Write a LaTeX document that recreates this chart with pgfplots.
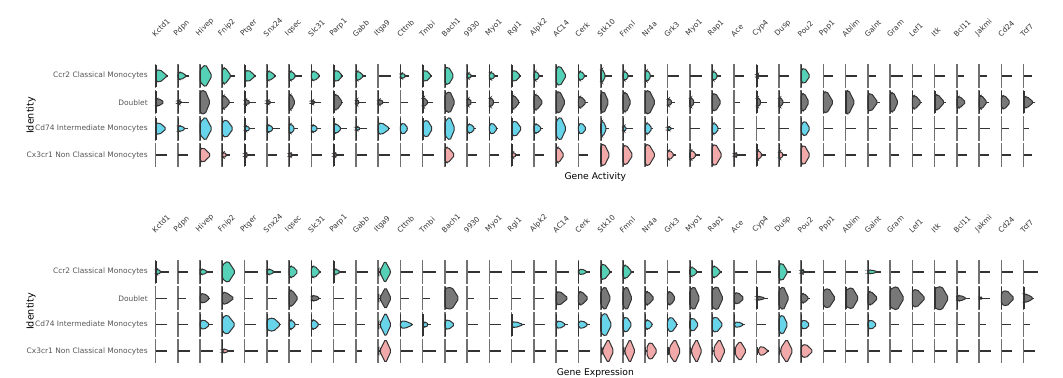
\documentclass[border=0pt]{standalone}
\usepackage{pgfplots}
\pgfplotsset{compat=1.18}
\usepackage{pgfplotstable}
\usepackage{fontspec}
\setmainfont{DejaVu Sans}
\newlength\pxu \setlength\pxu{0.75pt}
\definecolor{spinec}{HTML}{707070}
\definecolor{darkc}{HTML}{333333}
\definecolor{rowtxt}{HTML}{555555}
\definecolor{genetxt}{HTML}{333333}
\definecolor{ccrc}{RGB}{84,209,182}
\definecolor{dblc}{RGB}{120,120,120}
\definecolor{cdc}{RGB}{104,212,234}
\definecolor{cxc}{RGB}{242,169,169}

% columns: g = gene index, r = identity row (3 Ccr2, 2 Doublet, 1 Cd74, 0 Cx3cr1)
% O offset, L length, H half height, P peak position, S half height at start, T whisker length (px)
\pgfplotstableread{
g r O L H P S T
0 3 0 12 6.5 0.35 5 12
0 2 0 9 4 0.3 3 0
0 1 0 11 6 0.35 5 0
0 0 0 0 0 0 0 11
1 3 0 9 4 0.35 3 11
1 2 0 4 2 0.3 1.5 11
1 1 0 8 3 0.35 2.5 10
1 0 0 0 0 0 0 10
2 3 0 12 11.5 0.45 6 0
2 2 0 10 12 0.5 11 10
2 1 0 12 12 0.45 6 0
2 0 0 11 7.5 0.3 6 0
3 3 0 9 8.5 0.3 7 12.5
3 2 0 8 7 0.25 6 12
3 1 0 11 9 0.4 7 0
3 0 0 5 3 0.35 2 8
4 3 0 11 6 0.35 4 11
4 2 0 6 3 0.3 2 11
4 1 0 6 3 0.35 2 10
4 0 0 4 2 0.35 1.5 10
5 3 0 9 5 0.3 4 9
5 2 0 5 2 0.3 1.5 8
5 1 0 7 4 0.35 3 13
5 0 0 0 0 0 0 10
6 3 0 7 5 0.35 4 13
6 2 0 6 8 0.35 7 6
6 1 0 6 5 0.35 4 9
6 0 0 4 2 0.35 1.5 9
7 3 0 9 5 0.35 4 9
7 2 0 4 2 0.3 1.5 10
7 1 0 7 4 0.35 3 10
7 0 0 0 0 0 0 11
8 3 0 9 6 0.4 4 9
8 2 0 9 8 0.35 7 9
8 1 0 8 5 0.35 4 13
8 0 0 4 2 0.35 1.5 10
9 3 0 8 5 0.3 4 10
9 2 0 4 3 0.3 2 10
9 1 0 5 2 0.35 1.5 11
9 0 0 0 0 0 0 11
10 3 0 0 0 0 0 13
10 2 0 6 3 0.3 2 11
10 1 0 12 6 0.3 5 12
10 0 0 0 0 0 0 12
11 3 0 6 3 0.35 2 9
11 2 0 0 0 0 0 8
11 1 0 8 6 0.4 4 8
11 0 0 0 0 0 0 10
12 3 0 9 6 0.35 4 9
12 2 0 6 5 0.2 4 10
12 1 0 10 9 0.45 6 0
12 0 0 0 0 0 0 11
13 3 0 9 9 0.4 8 0
13 2 0 10 11 0.5 8 0
13 1 0 10 12 0.5 7 0
13 0 0 10 8 0.3 7 0
14 3 0 5 3 0.35 2 9
14 2 0 5 4 0.3 3 9
14 1 0 8 5 0.4 3.5 9
14 0 0 0 0 0 0 10
15 3 0 6 4 0.35 3 9
15 2 0 5 5 0.3 4 10
15 1 0 8 6 0.4 4 9
15 0 0 0 0 0 0 10
16 3 0 9 6 0.35 4 9
16 2 0 8 7 0.3 6 8
16 1 0 10 8 0.4 6 0
16 0 0 5 3 0.35 2 8
17 3 0 6 5 0.35 3.5 9
17 2 0 9 8 0.3 7 8
17 1 0 8 5 0.35 4 9
17 0 0 0 0 0 0 10
18 3 0 10 10 0.4 8 9
18 2 0 9 11 0.4 10 0
18 1 0 10 12 0.45 8 0
18 0 0 8 8 0.3 7 0
19 3 0 7 5 0.35 3.5 9
19 2 0 8 6 0.3 5 10
19 1 0 8 6 0.4 4 8
19 0 0 0 0 0 0 10
20 3 0 5 7 0.3 6 11
20 2 0 8 11 0.4 9 0
20 1 0 6 8 0.35 6 8
20 0 0 9 11 0.4 10 0
21 3 0 6 5 0.35 3.5 10
21 2 0 8 10 0.4 9 0
21 1 0 4 3 0.35 2 10
21 0 0 10 10 0.35 9 0
22 3 0 6 6 0.35 4.5 9
22 2 0 10 12 0.4 11 0
22 1 0 7 6 0.35 4.5 8
22 0 0 10 11 0.35 10 0
23 3 0 0 0 0 0 12
23 2 0 5 4 0.3 3 8
23 1 0 5 2 0.35 1.5 7
23 0 0 7 5 0.3 4 9
24 3 0 0 0 0 0 12
24 2 0 5 5 0.3 4 10
24 1 0 0 0 0 0 10
24 0 0 7 5 0.3 4 10
25 3 0 6 5 0.35 3.5 9
25 2 0 9 9 0.4 8 0
25 1 0 7 6 0.35 4.5 9
25 0 0 10 11 0.35 9 0
26 3 0 0 0 0 0 10
26 2 0 0 0 0 0 6
26 1 0 0 0 0 0 10
26 0 0 4 2 0.35 1.5 12
27 3 0 3 2 0.35 1.5 11
27 2 0 5 5 0.3 4 10
27 1 0 0 0 0 0 8
27 0 0 6 5 0.3 4 9
28 3 0 0 0 0 0 10
28 2 0 5 5 0.3 4 11
28 1 0 0 0 0 0 10
28 0 0 5 4 0.3 3 8
29 3 0 9 8 0.4 6 0
29 2 0 8 9 0.4 8 0
29 1 0 9 8 0.45 4 0
29 0 0 9 10 0.35 8 0
30 3 0 0 0 0 0 10
30 2 0 10 11 0.35 10 0
30 1 0 0 0 0 0 10
30 0 0 0 0 0 0 12
31 3 0 0 0 0 0 11
31 2 0 9 12 0.35 11 0
31 1 0 0 0 0 0 10
31 0 0 0 0 0 0 10
32 3 0 0 0 0 0 8
32 2 0 10 9 0.35 8 12
32 1 0 0 0 0 0 9
32 0 0 0 0 0 0 9
33 3 0 0 0 0 0 13
33 2 0 8 10 0.4 9 0
33 1 0 0 0 0 0 8
33 0 0 0 0 0 0 9
34 3 0 0 0 0 0 10
34 2 0 9 7 0.3 6 10
34 1 0 0 0 0 0 10
34 0 0 0 0 0 0 10
35 3 0 0 0 0 0 10
35 2 0 10 8 0.3 7 11
35 1 0 0 0 0 0 10
35 0 0 0 0 0 0 10
36 3 0 0 0 0 0 7
36 2 0 9 6 0.3 5 0
36 1 0 0 0 0 0 10
36 0 0 0 0 0 0 10
37 3 0 0 0 0 0 8
37 2 0 8 7 0.3 6 10
37 1 0 0 0 0 0 11
37 0 0 0 0 0 0 10
38 3 0 0 0 0 0 11
38 2 0 9 7 0.35 6 0
38 1 0 0 0 0 0 8
38 0 0 0 0 0 0 10
39 3 0 0 0 0 0 8
39 2 0 10 6 0.3 5 11
39 1 0 0 0 0 0 5
39 0 0 0 0 0 0 8
}\activity

\pgfplotstableread{
g r O L H P S T
0 3 0 6 3 0.35 2 13
0 2 0 0 0 0 0 11
0 1 0 0 0 0 0 11
0 0 0 0 0 0 0 11
1 3 0 0 0 0 0 10
1 2 0 0 0 0 0 8
1 1 0 0 0 0 0 10
1 0 0 0 0 0 0 12
2 3 0 8 3 0.35 2 13
2 2 0 10 5 0.4 4 10
2 1 0 10 5 0.4 3.5 13
2 0 0 0 0 0 0 13
3 3 0 13 11 0.45 7 0
3 2 0 12 6 0.3 6 0
3 1 0 13 10 0.4 7 0
3 0 0 7 2 0.35 1.5 12
4 3 0 0 0 0 0 13
4 2 0 0 0 0 0 8
4 1 0 0 0 0 0 11
4 0 0 0 0 0 0 13
5 3 0 8 3 0.35 2 14
5 2 0 0 0 0 0 10
5 1 0 14 7 0.45 5 14
5 0 0 0 0 0 0 11
6 3 0 9 6 0.35 5 0
6 2 0 9 8 0.35 8 0
6 1 0 7 5 0.35 4 10
6 0 0 0 0 0 0 12
7 3 0 9 6 0.35 5 10
7 2 0 9 3 0.35 2 10
7 1 0 8 5 0.35 4 10
7 0 0 0 0 0 0 11
8 3 0 7 3 0.35 2 12
8 2 0 0 0 0 0 10
8 1 0 0 0 0 0 12
8 0 0 0 0 0 0 11
9 3 0 0 0 0 0 12
9 2 0 0 0 0 0 6
9 1 0 0 0 0 0 9
9 0 0 0 0 0 0 6
10 3 2 11 11 0.45 1 13
10 2 2 11 11 0.5 1 0
10 1 2 11 12 0.5 1 0
10 0 2 11 12 0.5 1 0
11 3 0 0 0 0 0 13
11 2 0 0 0 0 0 9
11 1 0 13 4 0.3 3 13
11 0 0 0 0 0 0 13
12 3 0 0 0 0 0 13
12 2 0 0 0 0 0 7
12 1 0 6 3 0.5 1.5 8
12 0 0 0 0 0 0 13
13 3 0 0 0 0 0 13
13 2 0 14 11 0.5 10 0
13 1 0 10 5 0.35 4 9
13 0 0 0 0 0 0 12
14 3 0 0 0 0 0 13
14 2 0 0 0 0 0 7
14 1 0 0 0 0 0 11
14 0 0 0 0 0 0 13
15 3 0 0 0 0 0 13
15 2 0 0 0 0 0 9
15 1 0 0 0 0 0 12
15 0 0 0 0 0 0 12
16 3 0 0 0 0 0 13
16 2 0 0 0 0 0 9
16 1 0 12 3 0.3 2.5 13
16 0 0 0 0 0 0 13
17 3 0 0 0 0 0 13
17 2 0 0 0 0 0 10
17 1 0 0 0 0 0 11
17 0 0 0 0 0 0 12
18 3 0 0 0 0 0 13
18 2 0 12 7 0.3 6 0
18 1 0 10 4 0.35 3 12
18 0 0 0 0 0 0 12
19 3 0 9 3 0.4 2 12
19 2 0 10 7 0.3 6 0
19 1 0 10 4 0.4 3 12
19 0 0 0 0 0 0 12
20 3 0 10 8 0.35 7 11
20 2 0 10 12 0.45 7 0
20 1 0 11 12 0.45 8 0
20 0 2 11 12 0.5 2 0
21 3 0 9 7 0.35 6 11
21 2 0 9 12 0.45 8 0
21 1 0 9 8 0.4 6 0
21 0 2 10 12 0.5 2 0
22 3 0 0 0 0 0 13
22 2 0 9 7 0.3 6 0
22 1 0 8 5 0.35 4 8
22 0 2 10 9 0.4 6 0
23 3 0 0 0 0 0 13
23 2 0 8 7 0.4 6 0
23 1 0 10 8 0.4 5 11
23 0 2 11 12 0.5 4 0
24 3 0 8 5 0.35 4 12
24 2 0 10 12 0.45 8 0
24 1 0 9 7 0.4 5 0
24 0 2 10 12 0.5 3 0
25 3 0 9 6 0.35 5 10
25 2 0 11 12 0.5 9 0
25 1 0 11 8 0.4 6 0
25 0 2 11 12 0.5 4 0
26 3 0 0 0 0 0 14
26 2 0 10 6 0.35 5 0
26 1 0 10 3 0.35 2 11
26 0 1 11 10 0.45 4 0
27 3 0 0 0 0 0 14
27 2 0 9 2 0.35 1.5 11
27 1 0 0 0 0 0 9
27 0 2 10 5 0.35 3 12
28 3 0 9 9 0.4 7 12
28 2 0 10 12 0.45 8 0
28 1 0 9 10 0.45 7 0
28 0 2 12 12 0.5 3 0
29 3 0 4 2 0.35 1.5 14
29 2 0 8 5 0.35 4 9
29 1 0 9 5 0.4 3 0
29 0 0 12 7 0.4 5 0
30 3 0 0 0 0 0 13
30 2 0 12 10 0.45 8 0
30 1 0 0 0 0 0 13
30 0 0 0 0 0 0 13
31 3 0 0 0 0 0 12
31 2 0 13 11 0.5 8 0
31 1 0 0 0 0 0 13
31 0 0 0 0 0 0 12
32 3 0 10 2 0.35 1.5 13
32 2 0 10 7 0.3 6 0
32 1 0 9 5 0.4 3 0
32 0 0 0 0 0 0 12
33 3 0 0 0 0 0 10
33 2 0 14 12 0.5 9 0
33 1 0 0 0 0 0 9
33 0 0 0 0 0 0 12
34 3 0 0 0 0 0 12
34 2 0 13 9 0.35 8 0
34 1 0 0 0 0 0 12
34 0 0 0 0 0 0 12
35 3 0 0 0 0 0 11
35 2 0 14 12 0.5 10 0
35 1 0 0 0 0 0 11
35 0 0 0 0 0 0 12
36 3 0 0 0 0 0 9
36 2 0 10 3 0.3 2 13
36 1 0 0 0 0 0 8
36 0 0 0 0 0 0 12
37 3 0 0 0 0 0 11
37 2 0 4 1 0.35 1 11
37 1 0 0 0 0 0 7
37 0 0 0 0 0 0 12
38 3 0 0 0 0 0 12
38 2 0 13 8 0.4 6 0
38 1 0 0 0 0 0 10
38 0 0 0 0 0 0 11
39 3 0 0 0 0 0 14
39 2 0 10 4 0.35 4 10
39 1 0 0 0 0 0 6
39 0 0 0 0 0 0 11
}\expression

\pgfdeclareplotmark{vio}{%
  \pgfscope
    \pgfsetlinewidth{1.6\pxu}\pgfsetstrokecolor{spinec}%
    \pgfpathmoveto{\pgfpoint{0pt}{-12.2\pxu}}%
    \pgfpathlineto{\pgfpoint{0pt}{12.2\pxu}}%
    \pgfusepath{stroke}%
  \endpgfscope
  \ifdim\vT pt>0pt
    \pgfscope
      \pgfsetlinewidth{1.3\pxu}\pgfsetstrokecolor{darkc}%
      \pgfpathmoveto{\pgfpoint{0.7\pxu}{0pt}}%
      \pgfpathlineto{\pgfpoint{\vT\pxu}{0pt}}%
      \pgfusepath{stroke}%
    \endpgfscope
  \fi
  \ifdim\vH pt>0pt
    \pgfmathsetmacro\vX{\vO+\vP*\vL}%
    \pgfmathsetmacro\vE{\vO+\vL}%
    \pgfscope
      \pgfsetlinewidth{1\pxu}\pgfsetstrokecolor{darkc}%
      \pgfsetcornersarced{\pgfpoint{1.8\pxu}{1.8\pxu}}%
      \pgfpathmoveto{\pgfpoint{\vO\pxu}{0pt}}%
      \pgfpathlineto{\pgfpoint{\vO\pxu}{\vS\pxu}}%
      \pgfpathlineto{\pgfpoint{\vX\pxu}{\vH\pxu}}%
      \pgfpathlineto{\pgfpoint{\vE\pxu}{0pt}}%
      \pgfpathlineto{\pgfpoint{\vX\pxu}{-\vH\pxu}}%
      \pgfpathlineto{\pgfpoint{\vO\pxu}{-\vS\pxu}}%
      \pgfpathclose
      \pgfusepath{fill,stroke}%
    \endpgfscope
    \pgfscope
      \pgfsetlinewidth{1.2\pxu}\pgfsetstrokecolor{darkc}%
      \ifdim\vO pt>0pt
        \pgfpathmoveto{\pgfpoint{0.6\pxu}{-4\pxu}}%
        \pgfpathlineto{\pgfpoint{0.6\pxu}{4\pxu}}%
        \pgfpathmoveto{\pgfpoint{0.6\pxu}{0pt}}%
        \pgfpathlineto{\pgfpoint{\vO\pxu}{0pt}}%
      \else
        \pgfpathmoveto{\pgfpoint{0.4\pxu}{-11\pxu}}%
        \pgfpathlineto{\pgfpoint{0.4\pxu}{11\pxu}}%
      \fi
      \pgfusepath{stroke}%
    \endpgfscope
  \fi
}

\pgfplotsset{
  violinpanel/.style={
    x=22.26\pxu, y=26.38\pxu,
    xmin=-0.5, xmax=39.7, ymin=-0.5, ymax=3.5,
    clip=false,
    axis line style={draw=none},
    major tick length=0pt,
    xtick={0,...,39},
    xticklabels={Kctd1,Pdpn,Hivep,Fnip2,Ptger,Snx24,Iqsec,Slc31,Parp1,Gabb,Itga9,Cttnb,Tmbi,Bach1,9930,Myo1,Rgl1,Alpk2,AC14,Cerk,Stk10,Fmnl,Nr4a,Grk3,Myo1,Rap1,Ace,Cyp4,Dusp,Pou2,Ppp1,Ablim,Galnt,Gram,Lef1,Itk,Bcl11,Jakmi,Cd24,Tcf7},
    xticklabel pos=upper,
    xticklabel style={yshift=25\pxu, rotate=45, anchor=south west, inner sep=0pt,
      font=\fontsize{5.5pt}{6pt}\selectfont, text=genetxt},
    ytick={0,1,2,3},
    yticklabels={Cx3cr1 Non Classical Monocytes,Cd74 Intermediate Monocytes,Doublet,Ccr2 Classical Monocytes},
    yticklabel style={anchor=east, inner sep=0pt, xshift=3.6\pxu,
      font=\fontsize{5.6pt}{6pt}\selectfont, text=rowtxt},
    every axis y label/.style={at={(axis description cs:-0.1267,0.5)}, anchor=center, rotate=90,
      font=\fontsize{7.2pt}{8pt}\selectfont},
    every axis x label/.style={at={(axis description cs:0.504,0)}, anchor=center, yshift=-9\pxu,
      font=\fontsize{6.9pt}{8pt}\selectfont},
    ylabel={Identity},
  },
  vioplot/.style={
    scatter, only marks,
    scatter src=explicit symbolic,
    scatter/classes={
      0={mark=vio, draw=darkc, fill=cxc},
      1={mark=vio, draw=darkc, fill=cdc},
      2={mark=vio, draw=darkc, fill=dblc},
      3={mark=vio, draw=darkc, fill=ccrc}},
    visualization depends on={\thisrow{O}\as\vO},
    visualization depends on={\thisrow{L}\as\vL},
    visualization depends on={\thisrow{H}\as\vH},
    visualization depends on={\thisrow{P}\as\vP},
    visualization depends on={\thisrow{S}\as\vS},
    visualization depends on={\thisrow{T}\as\vT},
  },
}

\begin{document}
\begin{tikzpicture}
\path[use as bounding box] (0,0) rectangle (1063\pxu,378\pxu);
\begin{axis}[violinpanel, at={(144.37\pxu,209.8\pxu)}, anchor=south west, xlabel={Gene Activity}]
\addplot[vioplot] table[x=g, y=r, meta=r] {\activity};
\end{axis}
\begin{axis}[violinpanel, at={(144.37\pxu,13.8\pxu)}, anchor=south west, xlabel={Gene Expression}]
\addplot[vioplot] table[x=g, y=r, meta=r] {\expression};
\end{axis}
\end{tikzpicture}
\end{document}
